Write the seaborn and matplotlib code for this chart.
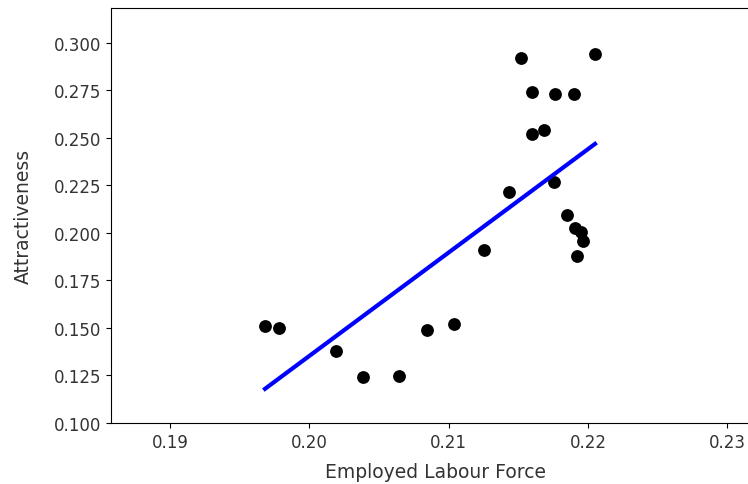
import matplotlib
matplotlib.use("Agg")
import matplotlib.pyplot as plt
import seaborn as sns
import pandas as pd

labour_force = [0.19682, 0.19782, 0.20189, 0.20383, 0.20642, 0.20847, 0.21039,
                0.21256, 0.21436, 0.21759, 0.21518, 0.22051, 0.21599, 0.21764,
                0.21900, 0.21599, 0.21685, 0.21848, 0.21905, 0.21948, 0.21963,
                0.21924]
attractiveness = [0.1511, 0.1498, 0.1381, 0.1240, 0.1249, 0.1489, 0.1521,
                  0.1911, 0.2214, 0.2270, 0.2923, 0.2944, 0.2744, 0.2733,
                  0.2733, 0.2523, 0.2544, 0.2095, 0.2028, 0.2004, 0.1958,
                  0.1877]
x_ticks = [0.19, 0.20, 0.21, 0.22, 0.23]
y_ticks = [0.100, 0.125, 0.150, 0.175, 0.200, 0.225, 0.250, 0.275, 0.300]

df = pd.DataFrame({"Employed Labour Force": labour_force,
                   "Attractiveness": attractiveness})

plt.rcParams["font.family"] = ["DejaVu Sans"]
fig = plt.figure(figsize=(7.48, 4.85), dpi=100)
ax = fig.add_axes([111/748, 61/485, 649/748, 415/485])

sns.regplot(data=df, x="Employed Labour Force", y="Attractiveness", ax=ax,
            ci=None, truncate=True,
            scatter_kws=dict(color="black", s=85, linewidths=0, alpha=1),
            line_kws=dict(color="blue", linewidth=3))

ax.set_xlim(0.185765, 0.232355)
ax.set_ylim(0.100, 0.31842)
ax.set_xticks(x_ticks)
ax.set_xticklabels([f"{t:.2f}" for t in x_ticks])
ax.set_yticks(y_ticks)
ax.set_yticklabels([f"{t:.3f}" for t in y_ticks])
ax.tick_params(labelsize=12, colors="black", labelcolor="#333333")
ax.set_xlabel("Employed Labour Force", fontsize=13.5, color="#333333", labelpad=8)
ax.set_ylabel("Attractiveness", fontsize=13.5, color="#333333", labelpad=15)

fig.savefig("out.png", dpi=100)
